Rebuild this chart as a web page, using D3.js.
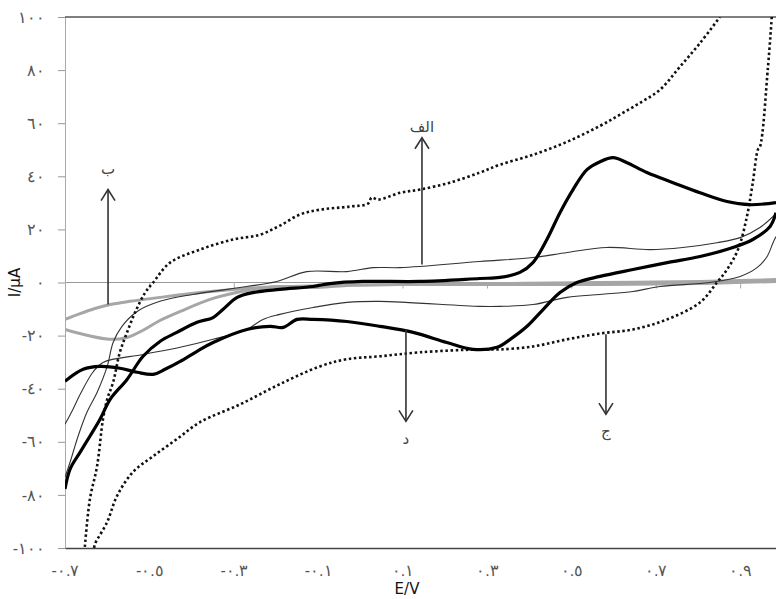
<!DOCTYPE html>
<html>
<head>
<meta charset="utf-8">
<style>
  body { margin:0; background:#fff; }
  svg { font-family: "DejaVu Sans", sans-serif; }
  .tick text { fill:#555; font-size:16px; }
</style>
</head>
<body>
<script src="https://cdn.jsdelivr.net/npm/d3@7/dist/d3.min.js"></script>
<script>
// axis ticks and their (Arabic-Indic) labels
var xTicks = [-0.7, -0.5, -0.3, -0.1, 0.1, 0.3, 0.5, 0.7, 0.9];
var xLabels = ["-٠.٧", "-٠.٥", "-٠.٣", "-٠.١", "٠.١", "٠.٣", "٠.٥", "٠.٧", "٠.٩"];
var yTicks = [-100, -80, -60, -40, -20, 0, 20, 40, 60, 80, 100];
var yLabels = ["-١٠٠", "-٨٠", "-٦٠", "-٤٠", "-٢٠", "٠", "٢٠", "٤٠", "٦٠", "٨٠", "١٠٠"];

// [E (V), I (uA)]
var dotFwd = [[-0.653,-99.6],[-0.641,-81.6],[-0.624,-69.2],[-0.610,-51.5],[-0.600,-44.0],[-0.586,-37.6],
  [-0.570,-26.3],[-0.553,-18.8],[-0.534,-11.3],[-0.510,-3.8],[-0.491,0],[-0.451,7.5],[-0.380,12.4],
  [-0.302,16.2],[-0.238,18.0],[-0.191,21.4],[-0.143,25.6],[-0.096,27.4],[-0.025,28.6],[0.018,29.7],
  [0.027,32.0],[0.042,31.2],[0.094,33.8],[0.141,35.0],[0.212,37.6],[0.283,41.4],[0.331,44.4],
  [0.409,48.1],[0.490,53.0],[0.568,59.0],[0.615,63.2],[0.663,67.7],[0.710,72.6],[0.757,81.2],
  [0.805,90.2],[0.852,100]];
var dotRev = [[0.975,100],[0.966,81.2],[0.947,51.1],[0.942,50],[0.930,37.6],[0.916,24.8],[0.895,12.4],
  [0.869,4.9],[0.845,0],[0.805,-7.5],[0.727,-13.9],[0.646,-17.7],[0.568,-19.2],[0.490,-21.4],
  [0.409,-24.1],[0.331,-25.2],[0.283,-25.2],[0.141,-26.3],[0.046,-27.8],[-0.032,-28.9],[-0.096,-31.6],
  [-0.191,-38.3],[-0.285,-45.9],[-0.380,-52.6],[-0.435,-59.0],[-0.491,-65.4],[-0.539,-71.4],
  [-0.577,-80.5],[-0.600,-90.2],[-0.629,-98.5],[-0.631,-100]];
var thickFwd = [[-0.700,-77.8],[-0.688,-70.3],[-0.664,-63.9],[-0.641,-57.9],[-0.617,-51.5],[-0.593,-44.0],
  [-0.553,-36.5],[-0.515,-27.8],[-0.475,-22.2],[-0.435,-18.8],[-0.387,-15.0],[-0.349,-13.2],
  [-0.326,-10.2],[-0.292,-5.6],[-0.255,-3.8],[-0.191,-2.6],[-0.112,-1.5],[-0.072,-0.4],[0.006,0.4],
  [0.141,0.4],[0.283,1.5],[0.331,1.9],[0.378,3.8],[0.409,7.5],[0.442,16.2],[0.473,26.3],[0.504,35.0],
  [0.537,42.5],[0.568,45.5],[0.599,47.0],[0.632,45.1],[0.679,41.4],[0.741,37.6],[0.805,33.8],
  [0.869,30.5],[0.923,29.3],[0.985,30.1]];
var thickRev = [[0.985,26.3],[0.971,21.1],[0.930,16.2],[0.883,13.2],[0.805,9.8],[0.727,7.5],[0.646,4.9],
  [0.568,2.3],[0.513,0],[0.473,-3.8],[0.433,-10.2],[0.395,-16.5],[0.355,-21.4],[0.324,-24.4],
  [0.267,-25.2],[0.205,-22.6],[0.125,-18.8],[0.046,-16.5],[-0.032,-14.7],[-0.112,-13.9],[-0.150,-13.9],
  [-0.183,-16.9],[-0.214,-16.5],[-0.269,-17.7],[-0.349,-22.6],[-0.387,-25.9],[-0.427,-29.7],
  [-0.463,-32.7],[-0.491,-34.6],[-0.529,-33.8],[-0.570,-32.3],[-0.617,-31.6],[-0.657,-32.7],[-0.700,-37.2]];
var thinFwd = [[-0.700,-73.3],[-0.688,-67.7],[-0.669,-57.9],[-0.648,-48.9],[-0.624,-41.4],[-0.600,-31.6],
  [-0.586,-22.6],[-0.565,-16.5],[-0.529,-10.9],[-0.475,-7.1],[-0.397,-4.5],[-0.269,-1.5],[-0.198,0.4],
  [-0.127,4.1],[-0.032,4.1],[0.030,5.6],[0.094,5.6],[0.283,7.9],[0.409,9.4],[0.490,11.3],[0.584,13.2],
  [0.686,12.4],[0.764,13.2],[0.845,15.0],[0.900,16.9],[0.947,20.7],[0.985,25.9]];
var thinRev = [[0.985,17.3],[0.978,15.0],[0.964,9.8],[0.940,5.6],[0.900,2.3],[0.828,0],[0.710,-1.5],
  [0.646,-3.4],[0.568,-4.5],[0.490,-5.6],[0.409,-8.3],[0.331,-9.0],[0.283,-9.0],[0.046,-7.1],
  [-0.032,-7.5],[-0.112,-9.4],[-0.191,-12.0],[-0.231,-13.9],[-0.269,-17.7],[-0.349,-21.4],
  [-0.427,-24.4],[-0.515,-27.1],[-0.610,-30.1],[-0.634,-33.8],[-0.664,-42.1],[-0.681,-47.7],[-0.700,-53.4]];
var grayFwd = [[-0.700,-13.9],[-0.664,-11.7],[-0.629,-9.8],[-0.593,-8.3],[-0.546,-7.1],[-0.475,-5.6],
  [-0.380,-3.8],[-0.238,-1.9],[-0.072,-1.1],[0.094,-0.75],[0.331,-0.4],[0.568,0],[0.805,0.4],[0.985,1.1]];
var grayRev = [[0.985,0.4],[0.805,-0.4],[0.568,-0.75],[0.331,-0.75],[0.094,-0.75],[-0.032,-1.1],
  [-0.112,-1.9],[-0.191,-1.5],[-0.269,-3.0],[-0.349,-6.0],[-0.427,-10.9],[-0.475,-14.3],[-0.515,-18.0],
  [-0.553,-20.7],[-0.593,-21.4],[-0.648,-19.9],[-0.700,-17.7]];

// arrows: label, E, I start, I tip, I label
var arrowNames = ["ب", "الف", "د", "ج"];
var arrowE = [-0.598, 0.146, 0.108, 0.582];
var arrowFrom = [-8.3, 6.8, -17.7, -19.5];
var arrowTo = [35.0, 54.5, -52.3, -49.6];
var arrowLabelI = [42.5, 58.3, -59.0, -56.0];

var W = 776, H = 599;
var svg = d3.select("body").append("svg").attr("width", W).attr("height", H);

var x = d3.scaleLinear().domain([-0.7, 0.985]).range([65, 776]);
var y = d3.scaleLinear().domain([-100, 100]).range([548, 17]);

svg.append("defs").append("clipPath").attr("id", "plot")
    .append("rect").attr("x", 65).attr("y", 17).attr("width", 711).attr("height", 531);

// left axis
var yAxis = d3.axisLeft(y).tickValues(yTicks)
    .tickFormat(function(d, i) { return yLabels[i]; })
    .tickSize(7).tickPadding(13);
var gy = svg.append("g").attr("transform", "translate(65,0)").call(yAxis);
gy.select(".domain").attr("stroke", "#aaa");
gy.selectAll(".tick line").attr("stroke", "#999");

// zero line with small ticks
var gz = svg.append("g").attr("transform", "translate(0," + y(0) + ")")
    .call(d3.axisBottom(x).tickValues(xTicks).tickSize(6).tickFormat(""));
gz.select(".domain").attr("stroke", "#999").attr("d", "M65,0H776");
gz.selectAll(".tick line").attr("stroke", "#aaa");

// bottom axis with labels
var gx = svg.append("g").attr("transform", "translate(0,548)")
    .call(d3.axisBottom(x).tickValues(xTicks)
        .tickFormat(function(d, i) { return xLabels[i]; })
        .tickSize(0).tickPadding(17));
gx.select(".domain").attr("stroke", "#444").attr("stroke-width", 1.5);

// top border
svg.append("line").attr("x1", 65).attr("x2", 776).attr("y1", y(100)).attr("y2", y(100))
    .attr("stroke", "#555").attr("stroke-width", 1.5);

var line = d3.line()
    .x(function(d) { return x(d[0]); })
    .y(function(d) { return y(d[1]); })
    .curve(d3.curveCatmullRom.alpha(0.5));

var plot = svg.append("g").attr("clip-path", "url(#plot)");

function draw(data, color, width, dash) {
    var p = plot.append("path").datum(data)
        .attr("d", line)
        .attr("fill", "none")
        .attr("stroke", color)
        .attr("stroke-width", width)
        .attr("stroke-linejoin", "round");
    if (dash) p.attr("stroke-dasharray", dash);
}

draw(grayFwd, "#a6a6a6", 3);
draw(grayRev, "#a6a6a6", 3);
draw(thinFwd, "#333", 1.1);
draw(thinRev, "#333", 1.1);
draw(dotFwd, "#111", 2.6, "2.5,2.6");
draw(dotRev, "#111", 2.6, "2.5,2.6");
draw(thickFwd, "#000", 3.2);
draw(thickRev, "#000", 3.2);

// arrows
arrowNames.forEach(function(name, i) {
    var ax = x(arrowE[i]), y1 = y(arrowFrom[i]), y2 = y(arrowTo[i]);
    var dir = y2 < y1 ? 1 : -1;
    var g = svg.append("g").attr("stroke", "#333").attr("stroke-width", 1.6).attr("fill", "none");
    g.append("line").attr("x1", ax).attr("x2", ax).attr("y1", y1).attr("y2", y2);
    g.append("path").attr("d", "M" + (ax - 7) + "," + (y2 + dir * 11) + "L" + ax + "," + y2 +
        "L" + (ax + 7) + "," + (y2 + dir * 11));
    svg.append("text").attr("x", ax).attr("y", y(arrowLabelI[i]))
        .attr("text-anchor", "middle").attr("dominant-baseline", "middle")
        .attr("font-size", 15).attr("fill", "#444").text(name);
});

// axis titles
svg.append("text").attr("x", 407).attr("y", 594).attr("text-anchor", "middle")
    .attr("font-size", 15).attr("fill", "#111").text("E/V");
svg.append("text").attr("transform", "translate(20," + y(0) + ") rotate(-90)")
    .attr("text-anchor", "middle").attr("font-size", 15).attr("fill", "#111").text("I/µA");
</script>
</body>
</html>
